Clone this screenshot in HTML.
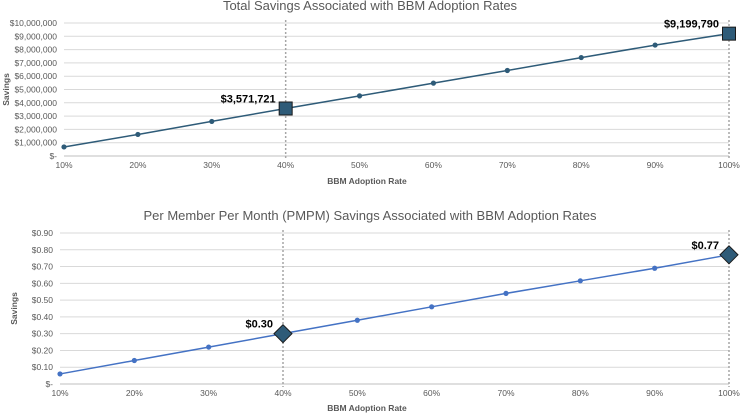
<!DOCTYPE html>
<html><head><meta charset="utf-8"><style>
body{margin:0;background:#fff;font-family:"Liberation Sans",sans-serif;}
svg{display:block}
</style></head><body>
<svg id="c" width="741" height="415" viewBox="0 0 741 415"></svg>
<script>
const categories=["10%","20%","30%","40%","50%","60%","70%","80%","90%","100%"];
const totalSavings=[680000,1620000,2600000,3571721,4520000,5480000,6430000,7400000,8340000,9199790];
const pmpmSavings=[0.06,0.14,0.22,0.30,0.38,0.46,0.54,0.615,0.69,0.77];
const totalTicks=[0,1000000,2000000,3000000,4000000,5000000,6000000,7000000,8000000,9000000,10000000];
const pmpmTicks=[0,0.1,0.2,0.3,0.4,0.5,0.6,0.7,0.8,0.9];
const highlightIdx=[3,9];
const totalLabels=["$3,571,721","$9,199,790"];
const pmpmLabels=["$0.30","$0.77"];

const NS="http://www.w3.org/2000/svg";
const svg=document.getElementById('c');
function mk(tag,attrs,parent,text){const e=document.createElementNS(NS,tag);for(const k in attrs)e.setAttribute(k,attrs[k]);if(text!==undefined)e.textContent=text;(parent||svg).appendChild(e);return e;}
function fmtMoney(v){return v===0?"$-":"$"+v.toLocaleString("en-US");}
function fmtCents(v){return v===0?"$-":"$"+v.toFixed(2);}

function chart(o){
  const g=mk('g',{});
  
  
  const x=i=>o.x0+(o.x1-o.x0)*i/(categories.length-1);
  const ymax=o.ticks[o.ticks.length-1];
  const y=v=>o.yb-(o.yb-o.yt)*v/ymax;
  const t=mk('text',{x:370,y:o.titleY,'text-anchor':'middle','font-size':13,fill:'#595959'},g,o.title);
  
  o.ticks.forEach(v=>{
    const l=mk('line',{x1:o.x0,x2:o.x1,y1:y(v),y2:y(v),stroke:v===0?'#bfbfbf':'#d9d9d9','stroke-width':1},g);
    
    const tl=mk('text',{x:o.x0-7,y:y(v)+3,'text-anchor':'end','font-size':8.5,fill:'#595959'},g,o.fmt(v));
    
  });
  categories.forEach((c,i)=>{
    const tl=mk('text',{x:x(i),y:o.yb+12,'text-anchor':'middle','font-size':8.5,fill:'#595959'},g,c);
    
  });
  highlightIdx.forEach(i=>{
    const l=mk('line',{x1:x(i),x2:x(i),y1:o.yt-3,y2:o.yb+3,stroke:'#a6a6a6','stroke-width':1.5,'stroke-dasharray':'2,2'},g);
    
  });
  const pts=o.data.map((v,i)=>x(i)+','+y(v)).join(' ');
  const pl=mk('polyline',{points:pts,fill:'none',stroke:o.color,'stroke-width':1.5},g);
  
  o.data.forEach((v,i)=>{
    if(highlightIdx.includes(i))return;
    const c=mk('circle',{cx:x(i),cy:y(v),r:2.6,fill:o.color},g);
    
  });
  highlightIdx.forEach((i,k)=>{
    const cx=x(i),cy=y(o.data[i]);let m;
    if(o.shape==='square')m=mk('rect',{x:cx-6.5,y:cy-6.5,width:13,height:13,fill:'#2e5b78',stroke:'#1a1a1a','stroke-width':1},g);
    else m=mk('polygon',{points:`${cx},${cy-9} ${cx+9},${cy} ${cx},${cy+9} ${cx-9},${cy}`,fill:'#2e5b78',stroke:'#1a1a1a','stroke-width':1},g);
    
    const lb=mk('text',{x:cx-10,y:cy-6,'text-anchor':'end','font-size':11,'font-weight':'bold',fill:'#000'},g,o.labels[k]);
    
  });
  const xt=mk('text',{x:367,y:o.xTitleY,'text-anchor':'middle','font-size':8.5,'font-weight':'bold',fill:'#595959'},g,'BBM Adoption Rate');
  
  const yt=mk('text',{x:0,y:0,transform:`translate(${o.yTitleX},${(o.yt+o.yb)/2}) rotate(-90)`,'text-anchor':'middle','font-size':8.5,'font-weight':'bold',fill:'#595959'},g,'Savings');
  
}
chart({name:'total-savings-chart',title:'Total Savings Associated with BBM Adoption Rates',titleY:10,x0:64,x1:729,yt:23,yb:156,ticks:totalTicks,fmt:fmtMoney,data:totalSavings,color:'#2e5b78',shape:'square',labels:totalLabels,xTitleY:184,yTitleX:9});
chart({name:'pmpm-savings-chart',title:'Per Member Per Month (PMPM) Savings Associated with BBM Adoption Rates',titleY:220,x0:60,x1:729,yt:233,yb:384,ticks:pmpmTicks,fmt:fmtCents,data:pmpmSavings,color:'#4472c4',shape:'diamond',labels:pmpmLabels,xTitleY:411,yTitleX:17});
</script>
</body></html>
